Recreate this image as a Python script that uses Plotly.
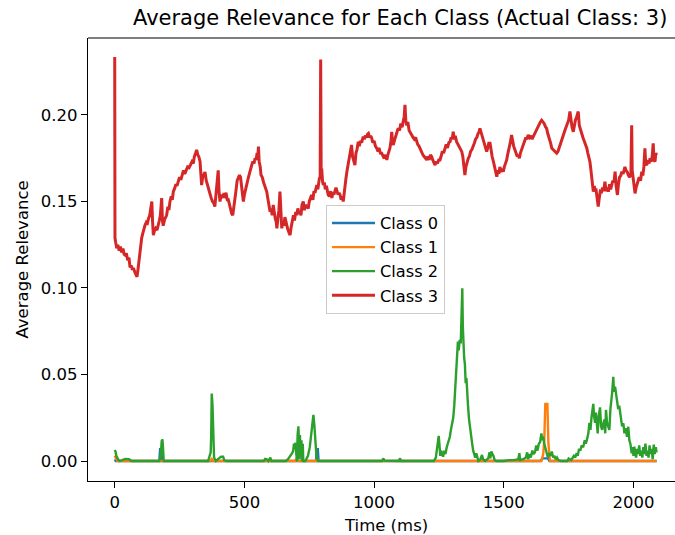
import plotly.graph_objects as go

# Average relevance over time for each output class (actual class: 3)

# Class 3 (red)
t3 = [0, 1, 4, 8, 12, 17, 22, 27, 32, 36, 40, 45, 50, 55, 59, 64, 68, 72, 78, 83, 86, 90, 95, 100, 104, 109, 113, 117, 122, 126,
      130, 135, 140, 143, 146, 149, 153, 158, 163, 168, 172, 176, 181, 184, 187, 192, 196, 200, 205, 209, 213, 218, 222, 226, 232,
      236, 240, 245, 250, 255, 260, 265, 270, 276, 281, 287, 292, 298, 303, 307, 312, 316, 320, 324, 329, 333, 335, 339, 343, 348,
      353, 358, 363, 367, 372, 377, 382, 386, 390, 394, 399, 402, 406, 410, 414, 419, 424, 429, 434, 438, 442, 446, 451, 455, 459,
      463, 467, 472, 477, 481, 485, 488, 492, 496, 500, 505, 509, 514, 519, 524, 528, 532, 537, 541, 545, 549, 552, 554, 557, 561,
      564, 569, 574, 580, 586, 590, 595, 599, 603, 607, 611, 615, 619, 623, 625, 629, 633, 637, 640, 644, 648, 652, 656, 660, 663,
      667, 672, 676, 680, 685, 689, 693, 698, 702, 706, 710, 714, 718, 722, 727, 731, 735, 740, 746, 750, 754, 759, 764, 768, 772,
      776, 779, 783, 786, 789, 792, 794, 796, 798, 801, 804, 808, 812, 816, 820, 823, 828, 833, 837, 841, 845, 849, 853, 857, 861,
      865, 869, 873, 877, 881, 885, 888, 892, 896, 900, 904, 907, 910, 913, 917, 921, 926, 930, 934, 939, 943, 947, 952, 958, 962,
      966, 971, 975, 978, 983, 987, 991, 995, 1000, 1005, 1010, 1015, 1019, 1024, 1029, 1034, 1039, 1044, 1049, 1053, 1057, 1061,
      1065, 1068, 1071, 1074, 1078, 1083, 1088, 1093, 1098, 1103, 1108, 1113, 1116, 1119, 1122, 1126, 1130, 1135, 1140, 1145, 1150,
      1155, 1160, 1164, 1168, 1173, 1178, 1183, 1188, 1193, 1198, 1203, 1207, 1212, 1217, 1222, 1226, 1231, 1235, 1239, 1244, 1249,
      1254, 1258, 1263, 1268, 1273, 1278, 1283, 1288, 1293, 1297, 1301, 1305, 1309, 1313, 1318, 1323, 1328, 1333, 1338, 1342, 1346,
      1350, 1354, 1358, 1363, 1367, 1372, 1377, 1382, 1387, 1391, 1396, 1400, 1404, 1408, 1412, 1417, 1421, 1425, 1430, 1434, 1438,
      1442, 1447, 1451, 1455, 1460, 1464, 1468, 1473, 1477, 1481, 1485, 1489, 1494, 1498, 1502, 1507, 1511, 1516, 1520, 1525, 1530,
      1534, 1538, 1543, 1547, 1552, 1556, 1560, 1564, 1568, 1572, 1575, 1580, 1585, 1589, 1594, 1599, 1604, 1609, 1614, 1618, 1622,
      1627, 1632, 1636, 1641, 1646, 1651, 1656, 1661, 1665, 1670, 1675, 1680, 1685, 1690, 1695, 1700, 1704, 1709, 1714, 1718, 1723,
      1727, 1731, 1736, 1740, 1745, 1750, 1755, 1759, 1763, 1768, 1772, 1776, 1781, 1787, 1791, 1796, 1800, 1805, 1810, 1815, 1820,
      1824, 1828, 1832, 1836, 1840, 1845, 1849, 1852, 1855, 1858, 1861, 1864, 1868, 1872, 1877, 1881, 1885, 1890, 1894, 1899, 1903,
      1908, 1912, 1916, 1920, 1925, 1929, 1933, 1936, 1938, 1942, 1946, 1951, 1955, 1960, 1964, 1967, 1971, 1976, 1980, 1985, 1990,
      1993, 1995, 1999, 2002, 2006, 2010, 2014, 2018, 2022, 2027, 2032, 2036, 2040, 2044, 2047, 2051, 2055, 2060, 2064, 2068, 2072,
      2076, 2079, 2083, 2086, 2089]
v3 = [0.2335, 0.1290, 0.1262, 0.1230, 0.1250, 0.1215, 0.1240, 0.1205, 0.1228, 0.1195, 0.1190, 0.1200, 0.1160, 0.1175, 0.1120,
      0.1130, 0.1105, 0.1115, 0.1090, 0.1070, 0.1065, 0.1110, 0.1180, 0.1250, 0.1290, 0.1320, 0.1350, 0.1364, 0.1380, 0.1375,
      0.1400, 0.1420, 0.1470, 0.1500, 0.1380, 0.1306, 0.1330, 0.1345, 0.1335, 0.1360, 0.1390, 0.1420, 0.1520, 0.1390, 0.1360,
      0.1395, 0.1410, 0.1420, 0.1470, 0.1450, 0.1500, 0.1530, 0.1510, 0.1557, 0.1580, 0.1600, 0.1590, 0.1624, 0.1640, 0.1625,
      0.1663, 0.1680, 0.1660, 0.1690, 0.1700, 0.1695, 0.1715, 0.1730, 0.1720, 0.1760, 0.1780, 0.1798, 0.1770, 0.1760, 0.1730,
      0.1620, 0.1595, 0.1640, 0.1660, 0.1670, 0.1620, 0.1590, 0.1560, 0.1538, 0.1520, 0.1500, 0.1490, 0.1470, 0.1530, 0.1600,
      0.1680, 0.1560, 0.1500, 0.1540, 0.1520, 0.1538, 0.1530, 0.1550, 0.1510, 0.1510, 0.1480, 0.1450, 0.1430, 0.1420, 0.1460,
      0.1520, 0.1557, 0.1620, 0.1640, 0.1653, 0.1640, 0.1600, 0.1560, 0.1500, 0.1540, 0.1580, 0.1595, 0.1630, 0.1660, 0.1690,
      0.1710, 0.1730, 0.1720, 0.1750, 0.1740, 0.1780, 0.1760, 0.1817, 0.1730, 0.1700, 0.1653, 0.1640, 0.1610, 0.1580, 0.1557,
      0.1520, 0.1480, 0.1440, 0.1460, 0.1420, 0.1480, 0.1430, 0.1400, 0.1380, 0.1345, 0.1400, 0.1450, 0.1557, 0.1450, 0.1345,
      0.1380, 0.1360, 0.1410, 0.1380, 0.1370, 0.1340, 0.1320, 0.1306, 0.1350, 0.1400, 0.1420, 0.1390, 0.1440, 0.1420, 0.1460,
      0.1430, 0.1440, 0.1420, 0.1480, 0.1500, 0.1450, 0.1480, 0.1470, 0.1460, 0.1500, 0.1520, 0.1538, 0.1510, 0.1560, 0.1550,
      0.1580, 0.1595, 0.1570, 0.1610, 0.1634, 0.1640, 0.2320, 0.1650, 0.1690, 0.1620, 0.1595, 0.1610, 0.1570, 0.1590, 0.1560,
      0.1538, 0.1530, 0.1560, 0.1520, 0.1550, 0.1540, 0.1557, 0.1580, 0.1560, 0.1540, 0.1550, 0.1538, 0.1510, 0.1530, 0.1500,
      0.1560, 0.1615, 0.1640, 0.1680, 0.1710, 0.1740, 0.1780, 0.1800, 0.1827, 0.1760, 0.1740, 0.1710, 0.1780, 0.1800, 0.1846,
      0.1820, 0.1850, 0.1840, 0.1875, 0.1860, 0.1880, 0.1870, 0.1890, 0.1894, 0.1870, 0.1880, 0.1865, 0.1840, 0.1850, 0.1820,
      0.1808, 0.1790, 0.1810, 0.1780, 0.1779, 0.1760, 0.1750, 0.1770, 0.1740, 0.1770, 0.1790, 0.1808, 0.1850, 0.1903, 0.1840,
      0.1827, 0.1850, 0.1870, 0.1900, 0.1923, 0.1910, 0.1950, 0.1930, 0.1970, 0.1990, 0.2058, 0.1970, 0.1940, 0.1960, 0.1910,
      0.1900, 0.1884, 0.1870, 0.1860, 0.1870, 0.1846, 0.1830, 0.1820, 0.1800, 0.1788, 0.1770, 0.1760, 0.1750, 0.1740, 0.1760,
      0.1740, 0.1770, 0.1759, 0.1740, 0.1720, 0.1710, 0.1730, 0.1720, 0.1740, 0.1740, 0.1760, 0.1790, 0.1780, 0.1808, 0.1830,
      0.1810, 0.1840, 0.1846, 0.1870, 0.1860, 0.1903, 0.1860, 0.1880, 0.1846, 0.1830, 0.1810, 0.1800, 0.1788, 0.1760, 0.1720,
      0.1653, 0.1700, 0.1730, 0.1750, 0.1760, 0.1790, 0.1800, 0.1817, 0.1840, 0.1860, 0.1870, 0.1890, 0.1900, 0.1923, 0.1900,
      0.1880, 0.1865, 0.1830, 0.1800, 0.1788, 0.1810, 0.1836, 0.1836, 0.1790, 0.1760, 0.1730, 0.1700, 0.1680, 0.1643, 0.1680,
      0.1660, 0.1700, 0.1670, 0.1690, 0.1672, 0.1700, 0.1720, 0.1740, 0.1780, 0.1800, 0.1840, 0.1884, 0.1840, 0.1820, 0.1798,
      0.1780, 0.1760, 0.1770, 0.1750, 0.1780, 0.1800, 0.1810, 0.1827, 0.1850, 0.1870, 0.1860, 0.1884, 0.1870, 0.1880, 0.1860,
      0.1875, 0.1890, 0.1900, 0.1923, 0.1930, 0.1950, 0.1960, 0.1970, 0.1960, 0.1950, 0.1930, 0.1923, 0.1890, 0.1870, 0.1840,
      0.1808, 0.1800, 0.1790, 0.1780, 0.1779, 0.1790, 0.1810, 0.1830, 0.1846, 0.1870, 0.1890, 0.1913, 0.1930, 0.1950, 0.1970,
      0.2020, 0.1950, 0.1930, 0.1903, 0.1940, 0.1970, 0.1990, 0.2020, 0.1940, 0.1910, 0.1884, 0.1870, 0.1850, 0.1830, 0.1808,
      0.1780, 0.1760, 0.1730, 0.1680, 0.1610, 0.1557, 0.1590, 0.1560, 0.1576, 0.1530, 0.1500, 0.1470, 0.1520, 0.1560, 0.1557,
      0.1580, 0.1560, 0.1615, 0.1560, 0.1580, 0.1557, 0.1600, 0.1570, 0.1595, 0.1620, 0.1610, 0.1672, 0.1590, 0.1560, 0.1538,
      0.1600, 0.1640, 0.1650, 0.1672, 0.1660, 0.1690, 0.1700, 0.1680, 0.1670, 0.1653, 0.1640, 0.1660, 0.1940, 0.1680, 0.1634,
      0.1600, 0.1547, 0.1580, 0.1600, 0.1615, 0.1640, 0.1620, 0.1672, 0.1650, 0.1700, 0.1808, 0.1720, 0.1710, 0.1740, 0.1720,
      0.1750, 0.1730, 0.1760, 0.1836, 0.1740, 0.1730, 0.1780, 0.1769]

# Class 0 (blue)
t0 = [0, 4, 172, 175, 180, 182, 776, 779, 783, 786, 1640, 1650, 1670, 1676, 2089]
v0 = [0.001, 0.0, 0.0, 0.0068, 0.0068, 0.0, 0.0, 0.0068, 0.0068, 0.0, 0.0, 0.0015, 0.0015, 0.0, 0.0]

# Class 1 (orange)
t1 = [0, 5, 10, 368, 374, 380, 695, 700, 706, 775, 780, 785, 1645, 1652, 1656, 1660, 1668, 1672, 1678, 2089]
v1 = [0.003, 0.001, 0.0, 0.0, 0.0012, 0.0, 0.0, 0.0012, 0.0, 0.0, 0.001, 0.0, 0.0, 0.004, 0.012, 0.033, 0.033, 0.010, 0.0, 0.0]

# Class 2 (green)
t2 = [0, 3, 6, 10, 15, 20, 30, 40, 55, 65, 172, 178, 181, 184, 186, 189, 360, 366, 370, 372, 374, 377, 380, 383, 390, 405,
      410, 418, 422, 430, 575, 580, 588, 592, 600, 604, 660, 668, 678, 684, 688, 691, 694, 697, 700, 703, 705, 708, 710, 712,
      714, 717, 720, 722, 725, 727, 735, 745, 752, 758, 762, 766, 770, 774, 778, 784, 1030, 1036, 1040, 1095, 1100, 1104, 1230,
      1238, 1243, 1246, 1249, 1252, 1255, 1258, 1262, 1266, 1270, 1275, 1280, 1286, 1292, 1296, 1300, 1305, 1309, 1313, 1316,
      1320, 1323, 1326, 1330, 1334, 1337, 1340, 1342, 1344, 1347, 1350, 1353, 1356, 1359, 1362, 1366, 1370, 1374, 1378, 1382,
      1386, 1390, 1394, 1398, 1402, 1410, 1416, 1420, 1428, 1440, 1445, 1448, 1452, 1456, 1460, 1465, 1472, 1500, 1520, 1540,
      1556, 1560, 1563, 1575, 1585, 1590, 1594, 1600, 1604, 1610, 1615, 1620, 1625, 1630, 1635, 1640, 1645, 1648, 1652, 1656,
      1660, 1665, 1670, 1675, 1680, 1685, 1690, 1695, 1700, 1705, 1710, 1720, 1745, 1750, 1760, 1770, 1775, 1781, 1785, 1790,
      1795, 1800, 1806, 1812, 1816, 1820, 1826, 1830, 1834, 1838, 1842, 1845, 1848, 1852, 1855, 1858, 1862, 1866, 1871, 1875,
      1879, 1884, 1888, 1891, 1894, 1898, 1902, 1907, 1911, 1915, 1918, 1922, 1925, 1929, 1933, 1937, 1941, 1945, 1948, 1952,
      1956, 1961, 1965, 1970, 1975, 1980, 1984, 1988, 1993, 1996, 2000, 2003, 2006, 2010, 2014, 2018, 2022, 2026, 2030, 2034,
      2038, 2042, 2046, 2050, 2054, 2058, 2062, 2066, 2070, 2074, 2078, 2082, 2086, 2089]
v2 = [0.0064, 0.0055, 0.003, 0.0015, 0.0005, 0.0, 0.0005, 0.0012, 0.0010, 0.0, 0.0, 0.004, 0.0115, 0.0125, 0.008, 0.0, 0.0,
      0.0025, 0.005, 0.015, 0.039, 0.032, 0.010, 0.002, 0.0, 0.0015, 0.0025, 0.0025, 0.0005, 0.0, 0.0, 0.0012, 0.0008, 0.0,
      0.002, 0.0, 0.0, 0.001, 0.003, 0.0045, 0.006, 0.010, 0.0085, 0.0105, 0.004, 0.0, 0.015, 0.020, 0.013, 0.001, 0.015, 0.004,
      0.012, 0.0, 0.010, 0.0, 0.0, 0.003, 0.008, 0.015, 0.022, 0.0266, 0.020, 0.008, 0.002, 0.0, 0.0, 0.0015, 0.0002, 0.0,
      0.0015, 0.0, 0.0, 0.002, 0.008, 0.014, 0.0145, 0.0095, 0.003, 0.006, 0.004, 0.0025, 0.006, 0.004, 0.008, 0.011, 0.014,
      0.018, 0.021, 0.025, 0.032, 0.045, 0.052, 0.065, 0.069, 0.064, 0.070, 0.068, 0.085, 0.0998, 0.078, 0.066, 0.060, 0.056,
      0.045, 0.048, 0.035, 0.032, 0.024, 0.018, 0.012, 0.010, 0.006, 0.0045, 0.002, 0.0045, 0.0015, 0.0, 0.001, 0.0035, 0.001,
      0.0, 0.0015, 0.005, 0.0015, 0.0055, 0.004, 0.003, 0.0005, 0.0, 0.0, 0.0005, 0.0005, 0.001, 0.0045, 0.0005, 0.001, 0.002,
      0.005, 0.001, 0.004, 0.002, 0.006, 0.004, 0.005, 0.009, 0.006, 0.010, 0.011, 0.016, 0.012, 0.014, 0.010, 0.008, 0.004,
      0.002, 0.0045, 0.003, 0.0055, 0.002, 0.003, 0.001, 0.002, 0.0005, 0.0, 0.0, 0.0015, 0.0005, 0.003, 0.002, 0.0045, 0.003,
      0.007, 0.006, 0.009, 0.008, 0.012, 0.010, 0.012, 0.016, 0.022, 0.018, 0.025, 0.030, 0.033, 0.026, 0.022, 0.028, 0.0237,
      0.016, 0.026, 0.031, 0.020, 0.018, 0.0218, 0.024, 0.016, 0.0295, 0.022, 0.020, 0.018, 0.030, 0.035, 0.040, 0.0487, 0.040,
      0.043, 0.039, 0.034, 0.030, 0.032, 0.0276, 0.025, 0.020, 0.0218, 0.016, 0.019, 0.014, 0.0198, 0.012, 0.010, 0.0045, 0.008,
      0.003, 0.0083, 0.006, 0.002, 0.007, 0.004, 0.009, 0.003, 0.006, 0.002, 0.008, 0.004, 0.010, 0.003, 0.006, 0.002, 0.009,
      0.004, 0.007, 0.001, 0.0095, 0.004, 0.008, 0.005]

series = [
    ("Class 0", t0, v0, "#1f77b4"),
    ("Class 1", t1, v1, "#ff7f0e"),
    ("Class 2", t2, v2, "#2ca02c"),
    ("Class 3", t3, v3, "#d62728"),
]

x_ticks = [0, 500, 1000, 1500, 2000]
y_ticks = [0.0, 0.05, 0.10, 0.15, 0.20]

FONT = "DejaVu Sans"
W, H = 675, 535
L, T, B, R = 88, 38, 54, 0
pw, ph = W - L - R, H - T - B

fig = go.Figure()
for name, t, v, c in series:
    fig.add_trace(go.Scatter(x=t, y=v, mode="lines", name=name,
                             line=dict(color=c, width=3.0 if name == "Class 3" else 2.4)))

axis_common = dict(
    showgrid=False, zeroline=False, showline=True, linecolor="black", linewidth=1.2,
    ticks="outside", ticklen=6, tickwidth=1.2, tickcolor="black",
    tickfont=dict(family=FONT, size=16.5, color="black"),
)

fig.update_layout(
    width=W, height=H,
    margin=dict(l=L, r=R, t=T, b=B, pad=0),
    paper_bgcolor="white", plot_bgcolor="white",
    font=dict(family=FONT, color="black"),
    xaxis=dict(range=[-103, 2160], tickvals=x_ticks, ticktext=[str(v) for v in x_ticks], **axis_common),
    yaxis=dict(range=[-0.01156, 0.2445], tickvals=y_ticks, ticktext=[f"{v:.2f}" for v in y_ticks], **axis_common),
    showlegend=True,
    legend=dict(
        x=(326 - L) / pw, y=(H - B - 205) / ph, xanchor="left", yanchor="top",
        bgcolor="rgba(255,255,255,0.8)", bordercolor="#cccccc", borderwidth=1,
        itemwidth=43,
        font=dict(family=FONT, size=16.2, color="black"),
    ),
    shapes=[dict(type="line", xref="paper", yref="paper", x0=0, x1=1, y0=1, y1=1,
                 line=dict(color="black", width=1.2))],
    annotations=[
        dict(text="Average Relevance for Each Class (Actual Class: 3)", xref="paper", yref="paper",
             x=(400 - L) / pw, y=1 + (T - 18) / ph, xanchor="center", yanchor="middle", showarrow=False,
             font=dict(family=FONT, size=21, color="black")),
        dict(text="Time (ms)", xref="paper", yref="paper",
             x=(386 - L) / pw, y=-(525 - (H - B)) / ph, xanchor="center", yanchor="middle", showarrow=False,
             font=dict(family=FONT, size=16.5, color="black")),
        dict(text="Average Relevance", xref="paper", yref="paper", textangle=-90,
             x=(22 - L) / pw, y=0.5, xanchor="center", yanchor="middle", showarrow=False,
             font=dict(family=FONT, size=16.5, color="black")),
    ],
)

fig.write_html("out.html")
